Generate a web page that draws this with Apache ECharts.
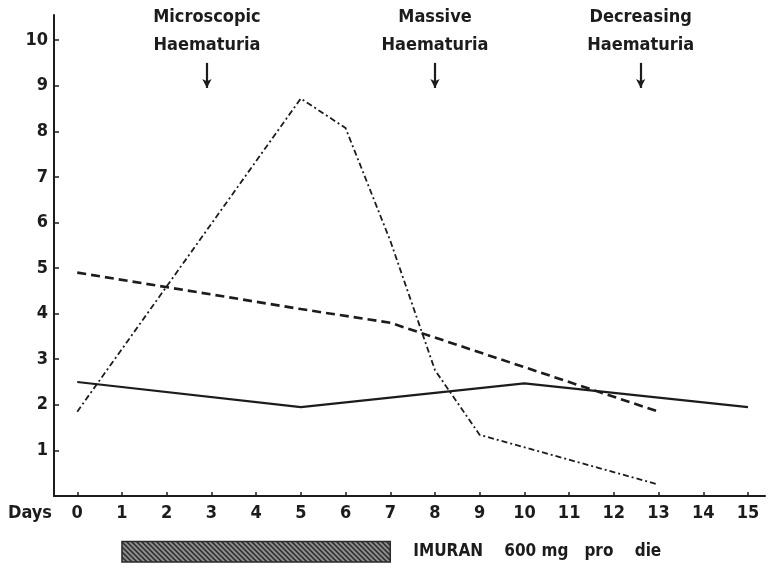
<!DOCTYPE html>
<html>
<head>
<meta charset="utf-8">
<title>Haematuria chart</title>
<script src="https://cdn.jsdelivr.net/npm/echarts@6/dist/echarts.min.js"></script>
<style>
  html, body { margin: 0; padding: 0; background: #fff; }
  #chart { width: 770px; height: 568px; }
</style>
</head>
<body>
<div id="chart"></div>
<script>
// x axis days
const dayTicks = [0, 1, 2, 3, 4, 5, 6, 7, 8, 9, 10, 11, 12, 13, 14, 15]
const yTicks = [1, 2, 3, 4, 5, 6, 7, 8, 9, 10]

// solid line
const solidDays = [0, 5, 10, 15]
const solidValues = [2.5, 1.95, 2.47, 1.95]
// dashed line
const dashedDays = [0, 5, 7, 13]
const dashedValues = [4.9, 4.1, 3.8, 1.85]
// dash-dot line
const dotDays = [0, 5, 6, 7, 8, 9, 13]
const dotValues = [1.85, 8.72, 8.07, 5.6, 2.76, 1.34, 0.25]

// annotations above the plot
const noteDays = [2.9, 8, 12.6]
const noteLabels = ['Microscopic\nHaematuria', 'Massive\nHaematuria', 'Decreasing\nHaematuria']

// treatment period
const imuranDays = [1, 7]
const imuranLabel = 'IMURAN    600 mg   pro    die'

const FONT = '"DejaVu Sans Condensed", "Liberation Sans Narrow", sans-serif'
const INK = '#1c1c1c'

function pairs(xs, ys) {
  return xs.map((x, i) => [x, ys[i]])
}

// hatch pattern for the bar
function hatch() {
  const c = document.createElement('canvas')
  c.width = 5
  c.height = 5
  const ctx = c.getContext('2d')
  ctx.fillStyle = '#8c8c8c'
  ctx.fillRect(0, 0, 5, 5)
  ctx.strokeStyle = '#2a2a2a'
  ctx.lineWidth = 1.5
  ctx.beginPath()
  ctx.moveTo(-1, -1); ctx.lineTo(6, 6)
  ctx.moveTo(-4, 1); ctx.lineTo(4, 9)
  ctx.moveTo(1, -4); ctx.lineTo(9, 4)
  ctx.stroke()
  return c
}

const myChart = echarts.init(document.getElementById('chart'), null, { renderer: 'canvas' })

const option = {
  backgroundColor: '#fff',
  animation: false,
  grid: { left: 54, right: 5, top: 15, bottom: 72 },
  xAxis: {
    type: 'value',
    min: -0.52,
    max: 15.38,
    name: 'Days',
    nameLocation: 'start',
    nameGap: 2,
    nameTextStyle: {
      color: INK, fontFamily: FONT, fontSize: 18, fontWeight: 'bold',
      verticalAlign: 'top', padding: [8, 0, 0, 0]
    },
    axisLine: { show: true, onZero: false, lineStyle: { color: INK, width: 2 } },
    axisTick: { show: true, inside: true, length: 4, customValues: dayTicks, lineStyle: { color: INK, width: 1.5 } },
    axisLabel: { customValues: dayTicks, color: INK, fontFamily: FONT, fontSize: 18, fontWeight: 'bold', margin: 8 },
    splitLine: { show: false }
  },
  yAxis: {
    type: 'value',
    min: 0,
    max: 10.55,
    axisLine: { show: true, onZero: false, lineStyle: { color: INK, width: 2 } },
    axisTick: { show: true, inside: true, length: 5, customValues: yTicks, lineStyle: { color: INK, width: 1.5 } },
    axisLabel: { customValues: yTicks, color: INK, fontFamily: FONT, fontSize: 18, fontWeight: 'bold', margin: 6 },
    splitLine: { show: false }
  },
  series: [
    {
      type: 'line',
      data: pairs(solidDays, solidValues),
      symbol: 'none',
      lineStyle: { color: INK, width: 2.2, type: 'solid' },
      markLine: {
        silent: true,
        symbol: ['none', 'arrow'],
        symbolSize: [7, 9],
        lineStyle: { color: INK, width: 2.2, type: 'solid' },
        label: {
          show: true,
          position: 'start',
          distance: 4,
          color: INK,
          fontFamily: FONT,
          fontSize: 18,
          fontWeight: 'bold',
          lineHeight: 28,
          formatter: p => p.name
        },
        data: noteDays.map((d, i) => [
          { coord: [d, 9.5], name: noteLabels[i] },
          { coord: [d, 8.95] }
        ])
      }
    },
    {
      type: 'line',
      data: pairs(dashedDays, dashedValues),
      symbol: 'none',
      lineStyle: { color: INK, width: 2.6, type: [9, 5] }
    },
    {
      type: 'line',
      data: pairs(dotDays, dotValues),
      symbol: 'none',
      lineStyle: { color: INK, width: 1.8, type: [6, 3, 2, 3] }
    },
    {
      // treatment bar under the day axis
      type: 'custom',
      clip: false,
      silent: true,
      data: [imuranDays],
      renderItem: (params, api) => {
        const p0 = api.coord([api.value(0), -1])
        const p1 = api.coord([api.value(1), -1.45])
        return {
          type: 'group',
          children: [
            {
              type: 'rect',
              shape: { x: p0[0], y: p0[1], width: p1[0] - p0[0], height: p1[1] - p0[1] },
              style: { fill: { image: hatch(), repeat: 'repeat' }, stroke: '#2a2a2a', lineWidth: 1.5 }
            },
            {
              type: 'text',
              x: p1[0] + 23,
              y: (p0[1] + p1[1]) / 2,
              style: {
                text: imuranLabel,
                fill: INK,
                font: 'bold 17px ' + FONT,
                verticalAlign: 'middle'
              }
            }
          ]
        }
      }
    }
  ]
}

myChart.setOption(option)
window.addEventListener('resize', function() {
  myChart.resize()
})
</script>
</body>
</html>
